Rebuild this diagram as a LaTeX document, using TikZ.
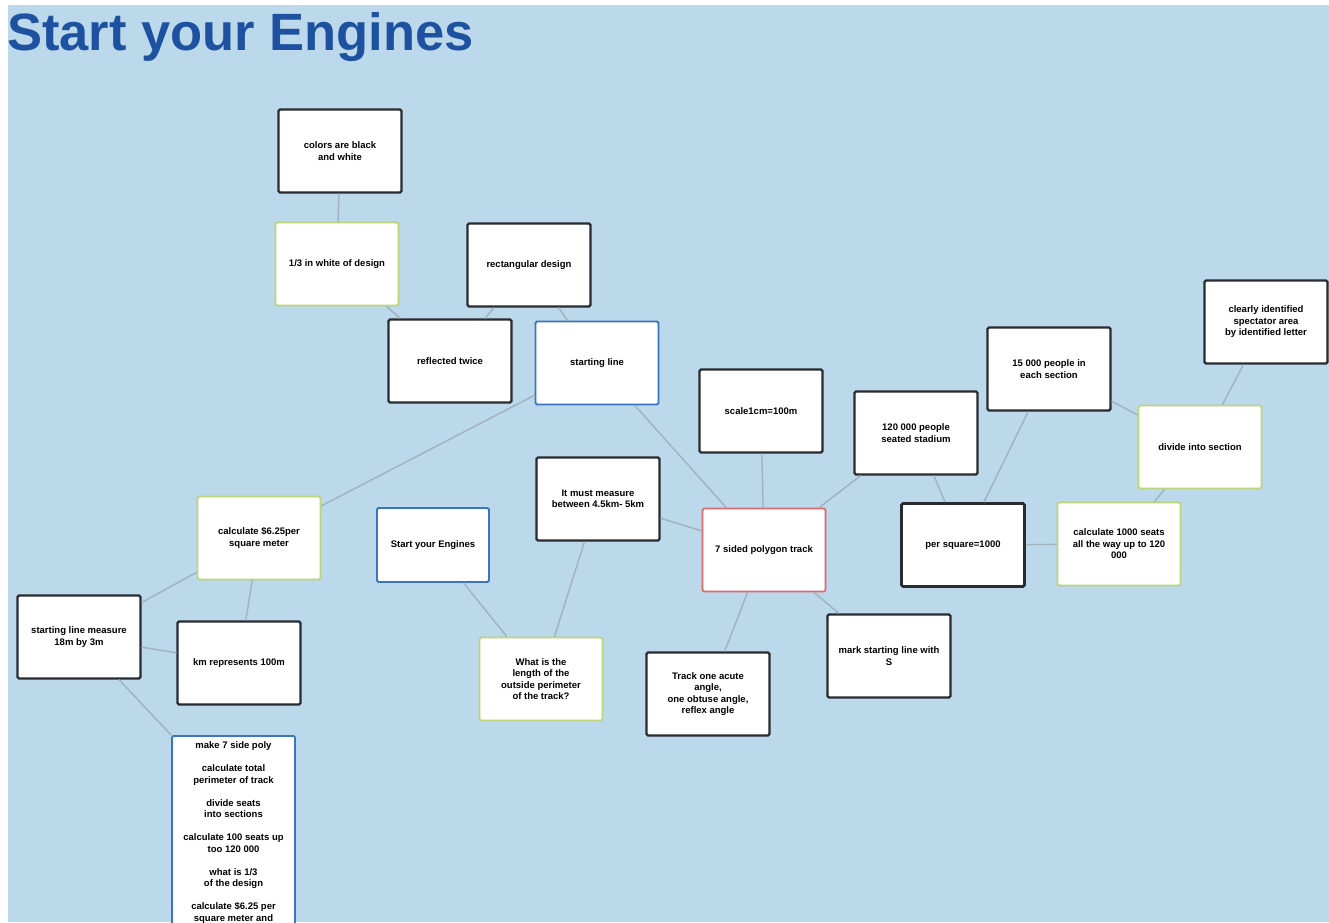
\documentclass[tikz,border=0pt]{standalone}
\usepackage{fontspec}
\setmainfont{Liberation Sans}
\usetikzlibrary{positioning}

\definecolor{bgblue}{RGB}{188,216,235}
\definecolor{titleblue}{RGB}{30,82,160}
\definecolor{boxblack}{RGB}{40,44,50}
\definecolor{boxgreen}{RGB}{186,214,120}
\definecolor{boxblue}{RGB}{58,116,194}
\definecolor{boxred}{RGB}{222,104,108}
\definecolor{linegrey}{RGB}{160,178,190}

\begin{document}
\begin{tikzpicture}[x=1pt, y=-1pt, node distance=113pt,
  note/.style={rectangle, draw=boxblack, line width=2.2pt, fill=white, rounded corners=1.5pt, align=center, minimum width=123pt, minimum height=83pt, inner sep=3pt, font=\bfseries\fontsize{9.5}{11.5}\selectfont},
  idea/.style={note, draw=boxgreen, line width=1.8pt},
  topic/.style={note, draw=boxblue, line width=1.8pt},
  hub/.style={note, draw=boxred, line width=1.8pt},
  link/.style={draw=linegrey, line width=1.4pt}]
\useasboundingbox (0,0) rectangle (1329,922);
\clip (0,0) rectangle (1329,922);
\fill[bgblue] (8,5) rectangle (1329,922);

% title
\node[anchor=base west, inner sep=0pt, text=titleblue, font=\bfseries\fontsize{52.5}{56}\selectfont] (title) at (7,50) {Start your Engines};

% upper left
\node [note] (colors) at (340,151) {colors are black\\and white};
\node [idea, below of=colors, xshift=-3pt] (third) {1/3 in white of design};
\node [note] (rectdesign) at (529,265) {rectangular design};
\node [note] (reflected) at (450,361) {reflected twice};
\node [topic] (startline) at (597,363) {starting line};

% centre
\node [note] (scale) at (761,411) {scale1cm=100m};
\node [note] (measure) at (598,499) {It must measure\\between 4.5km- 5km};
\node [topic, minimum width=112pt, minimum height=74pt] (engines) at (433,545) {Start your Engines};
\node [hub] (polygon) at (764,550) {7 sided polygon track};
\node [idea] (perimeter) at (541,679) {What is the\\length of the\\outside perimeter\\of the track?};
\node [note] (angles) at (708,694) {Track one acute\\angle,\\one obtuse angle,\\reflex angle};
\node [note] (markline) at (889,656) {mark starting line with\\S};

% right
\node [note] (stadium) at (916,433) {120 000 people\\seated stadium};
\node [note] (fifteen) at (1049,369) {15 000 people in\\each section};
\node [note] (spectator) at (1266,322) {clearly identified\\spectator area\\by identified letter};
\node [idea] (divide) at (1200,447) {divide into section};
\node [note, line width=2.6pt] (persquare) at (963,545) {per square=1000};
\node [idea] (seats) at (1119,544) {calculate 1000 seats\\all the way up to 120\\000};

% lower left
\node [idea] (cost) at (259,538) {calculate \$6.25per\\square meter};
\node [note] (linesize) at (79,637) {starting line measure\\18m by 3m};
\node [note] (kmscale) at (239,663) {km represents 100m};
\node [topic, anchor=north, minimum height=220pt, inner ysep=6pt] (todo) at (233.5,735) {make 7 side poly\\[11.5pt]
  calculate total\\perimeter of track\\[11.5pt]
  divide seats\\into sections\\[11.5pt]
  calculate 100 seats up\\too 120 000\\[11.5pt]
  what is 1/3\\of the design\\[11.5pt]
  calculate \$6.25 per\\square meter and\\[60pt]};

% draw edges
\draw [link] (colors) -- (third);
\draw [link] (third) -- (reflected);
\draw [link] (rectdesign) -- (reflected);
\draw [link] (rectdesign) -- (startline);
\draw [link] (startline) -- (cost);
\draw [link] (startline) -- (polygon);
\draw [link] (scale) -- (polygon);
\draw [link] (stadium) -- (polygon);
\draw [link] (stadium) -- (persquare);
\draw [link] (fifteen) -- (persquare);
\draw [link] (fifteen) -- (divide);
\draw [link] (spectator) -- (divide);
\draw [link] (divide) -- (seats);
\draw [link] (persquare) -- (seats);
\draw [link] (measure) -- (polygon);
\draw [link] (measure) -- (perimeter);
\draw [link] (engines) -- (perimeter);
\draw [link] (polygon) -- (angles);
\draw [link] (polygon) -- (markline);
\draw [link] (cost) -- (linesize);
\draw [link] (cost) -- (kmscale);
\draw [link] (linesize) -- (kmscale);
\draw [link] (linesize) -- (todo.north west);
\end{tikzpicture}
\end{document}
